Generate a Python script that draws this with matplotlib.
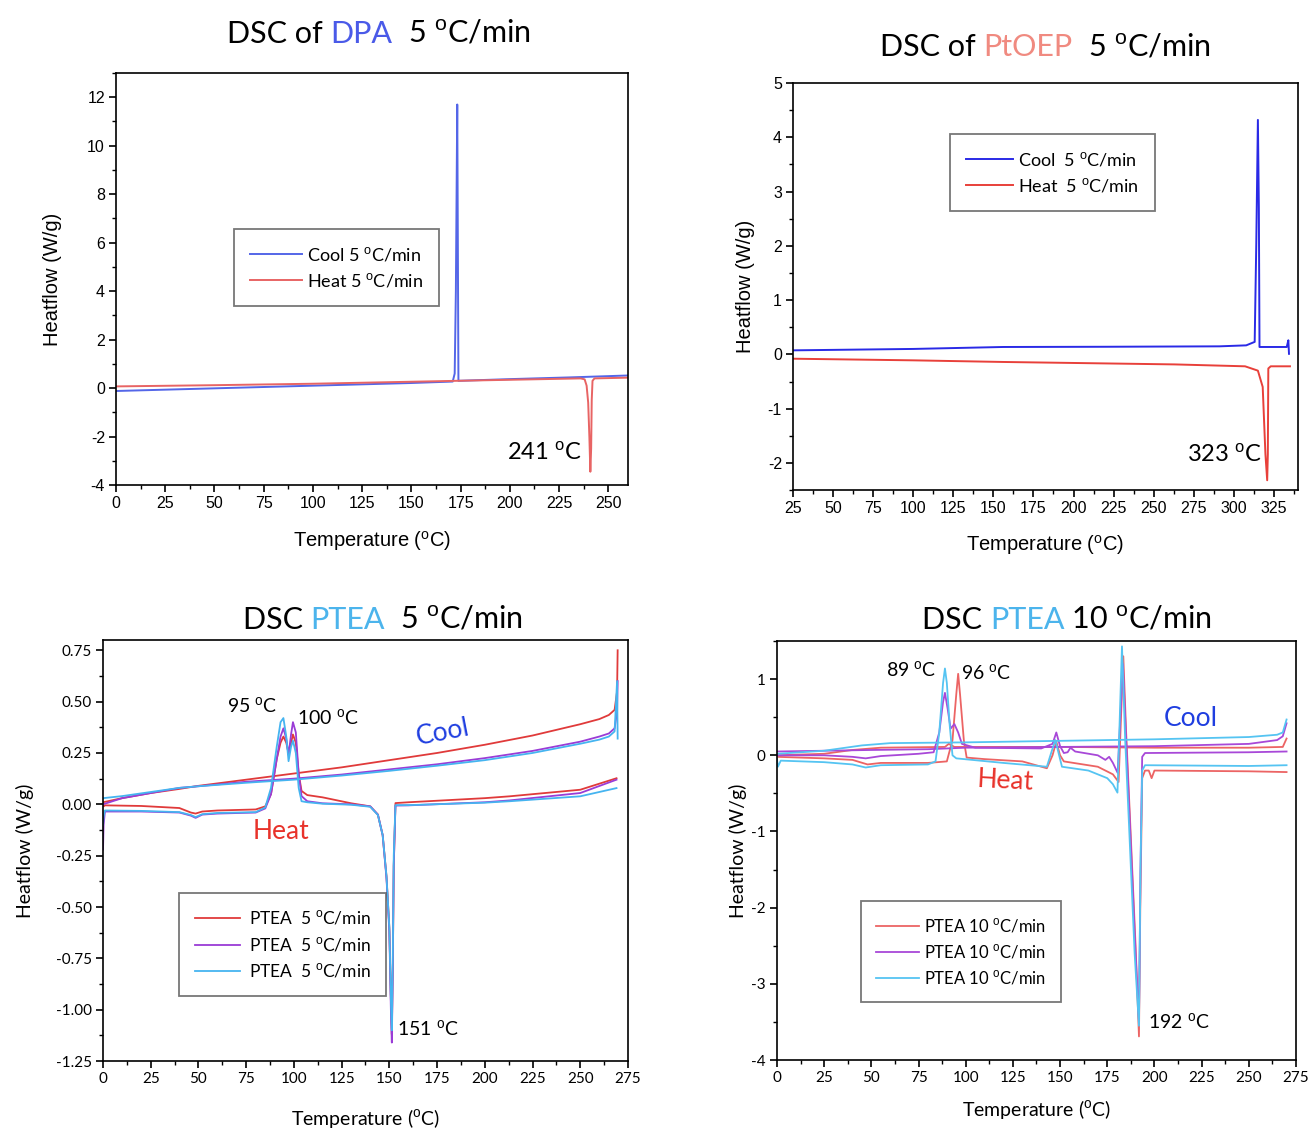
import numpy as np
import matplotlib.pyplot as plt
from matplotlib.ticker import MultipleLocator, FormatStrFormatter

plt.rcParams['mathtext.fontset'] = 'custom'
plt.rcParams['mathtext.rm'] = 'Liberation Sans'
plt.rcParams['axes.linewidth'] = 1.2
plt.rcParams['axes.unicode_minus'] = False

DEG = r'$^{\mathrm{o}}$C'

# ---- DPA 5 C/min
dpa_cool_x = [0, 50, 100, 150, 171.0, 172.0, 172.6, 173.3, 173.6, 173.9, 200, 230, 260]
dpa_cool_y = [-0.12, -0.01, 0.1, 0.21, 0.27, 0.6, 4.0, 11.7, 6.0, 0.3, 0.37, 0.44, 0.52]
dpa_heat_x = [0, 50, 100, 173, 236, 238, 239, 239.8, 240.4, 240.9, 241.3, 241.6, 242.0, 243, 260]
dpa_heat_y = [0.07, 0.12, 0.18, 0.3, 0.4, 0.36, 0.1, -0.6, -2.0, -3.45, -2.5, -0.5, 0.3, 0.4, 0.43]

# ---- PtOEP 5 C/min
pt_cool_x = [25, 100, 156, 220, 291, 307.7, 313, 314, 315, 315.6, 316, 333, 334, 334.4]
pt_cool_y = [0.074, 0.1, 0.136, 0.14, 0.148, 0.166, 0.23, 2.05, 4.32, 2.7, 0.136, 0.136, 0.26, 0.01]
pt_heat_x = [25, 100, 156, 263, 307, 315, 318, 319.7, 320.8, 321.2, 321.5, 323, 335]
pt_heat_y = [-0.08, -0.11, -0.14, -0.185, -0.22, -0.3, -0.6, -1.84, -2.32, -1.84, -0.26, -0.22, -0.22]

# ---- PTEA 5 C/min (heating and cooling runs, three samples)
p5_heat_x = [0, 0.3, 1, 20, 40, 46, 48.5, 52, 60, 80, 85, 88, 91, 93, 94.5, 96, 97.2, 98.5,
             99.5, 101, 102.5, 104, 107, 115, 130, 140, 144, 146.5, 148.5, 150, 150.8, 151.3,
             151.8, 152.3, 153.2, 160, 200, 213, 250, 269]
p5_heat_red = [0.0, -0.01, -0.005, -0.008, -0.018, -0.04, -0.045, -0.035, -0.03, -0.025, -0.01, 0.05,
               0.22, 0.3, 0.33, 0.3, 0.25, 0.3, 0.34, 0.3, 0.15, 0.065, 0.045, 0.034, 0.005, -0.01,
               -0.05, -0.15, -0.35, -0.6, -0.95, -1.12, -0.8, -0.3, 0.006, 0.01, 0.03, 0.039, 0.071, 0.127]
p5_heat_pur = [-0.22, -0.1, -0.035, -0.035, -0.04, -0.055, -0.066, -0.05, -0.045, -0.04, -0.02, 0.05,
               0.22, 0.33, 0.37, 0.32, 0.24, 0.34, 0.40, 0.35, 0.15, 0.04, 0.015, 0.005, 0.0, -0.01,
               -0.05, -0.15, -0.36, -0.62, -1.0, -1.16, -0.8, -0.3, -0.006, -0.005, 0.01, 0.019, 0.055, 0.12]
p5_heat_cyan = [-0.1, -0.06, -0.03, -0.032, -0.038, -0.052, -0.062, -0.048, -0.042, -0.038, -0.015, 0.08,
                0.28, 0.40, 0.42, 0.33, 0.21, 0.28, 0.31, 0.25, 0.08, 0.015, 0.01, 0.003, -0.002, -0.012,
                -0.052, -0.15, -0.35, -0.6, -0.95, -1.10, -0.75, -0.25, -0.004, -0.004, 0.008, 0.015, 0.039, 0.079]
p5_cool_x = [0, 10, 25, 40, 50, 75, 100, 125, 150, 175, 200, 225, 250, 260, 265, 268, 269.3, 269.6]
p5_cool_red = [0.01, 0.03, 0.055, 0.075, 0.09, 0.12, 0.15, 0.18, 0.215, 0.25, 0.29, 0.335, 0.39, 0.415,
               0.435, 0.46, 0.55, 0.75]
p5_cool_pur = [0.0, 0.03, 0.055, 0.08, 0.088, 0.11, 0.125, 0.145, 0.17, 0.195, 0.225, 0.26, 0.305, 0.33,
               0.345, 0.37, 0.45, 0.6]
p5_cool_cyan = [0.03, 0.04, 0.06, 0.08, 0.088, 0.105, 0.12, 0.14, 0.163, 0.188, 0.215, 0.25, 0.295, 0.315,
                0.33, 0.355, 0.6, 0.32]

# ---- PTEA 10 C/min
p10_red_heat_x = [0, 25, 40, 48, 55, 80, 90, 93, 95, 96, 97, 99, 100.5, 110, 130, 143, 146, 148, 150,
                  152, 170, 178, 181, 183.5, 185, 187, 190, 191.8, 192.5, 193.5, 195, 197, 198.5, 200, 250, 270]
p10_red_heat_y = [-0.02, -0.04, -0.06, -0.12, -0.1, -0.1, -0.08, 0.2, 0.8, 1.07, 0.8, 0.2, -0.03, -0.05,
                  -0.08, -0.17, 0.0, 0.18, 0.0, -0.08, -0.15, -0.25, -0.35, 1.3, 0.3, -0.8, -2.5, -3.69,
                  -2.0, -0.3, -0.2, -0.2, -0.3, -0.2, -0.21, -0.22]
p10_pur_heat_x = [0, 25, 40, 47, 55, 75, 83, 86, 88, 89, 90.5, 92, 94, 96, 98, 105, 140, 146, 148, 150,
                  152, 154, 155.5, 158, 170, 174, 176, 178, 180.5, 183.3, 185, 187, 190, 191.8, 192.6,
                  193.5, 195, 250, 270]
p10_pur_heat_y = [0.0, 0.0, -0.02, -0.04, -0.01, 0.02, 0.04, 0.3, 0.7, 0.82, 0.6, 0.35, 0.41, 0.3, 0.15,
                  0.1, 0.09, 0.15, 0.3, 0.12, 0.03, 0.04, 0.1, 0.05, 0.0, -0.06, -0.02, -0.1, -0.23, 1.2,
                  0.2, -0.9, -2.6, -3.5, -1.5, -0.02, 0.03, 0.04, 0.05]
p10_cyan_heat_x = [0, 0.5, 2, 25, 40, 47, 55, 80, 84, 86, 88, 89, 90, 91.5, 93, 95, 120, 143, 145.5,
                   147.5, 149.5, 151, 165, 175, 178, 180.4, 182.8, 184.5, 186.5, 189.5, 191.8, 192.6,
                   193.5, 195, 250, 270]
p10_cyan_heat_y = [-0.05, -0.15, -0.07, -0.09, -0.12, -0.16, -0.13, -0.12, -0.08, 0.3, 0.95, 1.14, 0.95,
                   0.4, 0.0, -0.04, -0.1, -0.15, 0.05, 0.2, 0.0, -0.15, -0.2, -0.3, -0.38, -0.49, 1.43,
                   0.2, -0.9, -2.6, -3.55, -1.5, -0.2, -0.13, -0.14, -0.13]
p10_red_cool_x = [0, 25, 40, 55, 89, 91, 94, 150, 200, 250, 268, 270]
p10_red_cool_y = [0.0, 0.02, 0.07, 0.1, 0.11, 0.15, 0.11, 0.11, 0.1, 0.1, 0.11, 0.22]
p10_pur_cool_x = [0, 25, 50, 80, 100, 150, 200, 250, 265, 268, 270]
p10_pur_cool_y = [0.05, 0.06, 0.07, 0.08, 0.1, 0.11, 0.12, 0.15, 0.2, 0.25, 0.42]
p10_cyan_cool_x = [0, 25, 45, 60, 100, 150, 200, 250, 265, 268, 270]
p10_cyan_cool_y = [0.02, 0.06, 0.13, 0.16, 0.17, 0.19, 0.21, 0.24, 0.27, 0.3, 0.47]

fig = plt.figure(figsize=(13.14, 11.37), dpi=100)
ax1 = fig.add_axes([0.0883, 0.5734, 0.3896, 0.3624])
ax2 = fig.add_axes([0.6035, 0.569, 0.3843, 0.358])
ax3 = fig.add_axes([0.0784, 0.0668, 0.3995, 0.3703])
ax4 = fig.add_axes([0.5913, 0.0677, 0.395, 0.3685])


def style(ax, xlim, ylim, xstep, ystep, font, size, xpad, ypad, yfmt=None):
    ax.set_xlim(xlim)
    ax.set_ylim(ylim)
    ax.xaxis.set_major_locator(MultipleLocator(xstep))
    ax.xaxis.set_minor_locator(MultipleLocator(xstep / 2))
    ax.yaxis.set_major_locator(MultipleLocator(ystep))
    ax.yaxis.set_minor_locator(MultipleLocator(ystep / 2))
    if yfmt:
        ax.yaxis.set_major_formatter(FormatStrFormatter(yfmt))
    ax.tick_params(which='major', direction='out', length=5, width=1.2, labelsize=size, pad=3)
    ax.tick_params(which='minor', direction='out', length=3, width=1.0)
    for lab in ax.get_xticklabels() + ax.get_yticklabels():
        lab.set_family(font)
    ax.set_xlabel('Temperature (' + DEG + ')', family=font, fontsize=size + 3, labelpad=xpad)
    ax.set_ylabel('Heatflow (W/g)', family=font, fontsize=size + 3, labelpad=ypad)


def title(x, y, parts, size=22):
    t = fig.text(x, y, parts[0][0], color=parts[0][1], fontsize=size, family='Lato', va='bottom')
    for s, c in parts[1:]:
        t = ax1.annotate(s, xy=(1, 0), xycoords=t, va='bottom', ha='left', color=c,
                         fontsize=size, family='Lato', annotation_clip=False)


def legend(ax, x0, ytop, size, hl, tp=0.25):
    lg = ax.legend(loc='upper left', bbox_to_anchor=(x0, ytop), borderaxespad=0, fancybox=False,
                   handlelength=hl, borderpad=0.9, labelspacing=0.45,
                   handletextpad=tp, prop={'family': 'Lato', 'size': size})
    lg.get_frame().set_edgecolor('#555555')
    lg.get_frame().set_linewidth(1.3)


# panel 1: DPA
ax1.plot(dpa_cool_x, dpa_cool_y, color='#5466e8', lw=1.4, label='Cool 5 ' + DEG + '/min')
ax1.plot(dpa_heat_x, dpa_heat_y, color='#e86464', lw=1.4, label='Heat 5 ' + DEG + '/min')
style(ax1, (0, 260), (-4, 13), 25, 2, 'Liberation Sans', 11.5, 13, 18)
legend(ax1, 0.23, 0.621, 13, 2.9)
ax1.text(198.5, -2.67, '241 ' + DEG, fontsize=17, family='Lato', va='center')

# panel 2: PtOEP
ax2.plot(pt_cool_x, pt_cool_y, color='#2a2ae6', lw=1.4, label='Cool  5 ' + DEG + '/min')
ax2.plot(pt_heat_x, pt_heat_y, color='#e8403a', lw=1.4, label='Heat  5 ' + DEG + '/min')
style(ax2, (25, 340), (-2.5, 5), 25, 1, 'Liberation Sans', 11.5, 12, 9)
legend(ax2, 0.311, 0.875, 13, 2.6)
ax2.text(270.5, -1.84, '323 ' + DEG, fontsize=17, family='Lato', va='center')

# panel 3: PTEA 5 C/min
c5 = ['#e03a3a', '#9a3cd6', '#45b4f0']
for hy, cy, c in zip([p5_heat_red, p5_heat_pur, p5_heat_cyan],
                     [p5_cool_red, p5_cool_pur, p5_cool_cyan], c5):
    ax3.plot(p5_heat_x, hy, color=c, lw=1.3, label='PTEA  5 ' + DEG + '/min')
    ax3.plot(p5_cool_x, cy, color=c, lw=1.3)
style(ax3, (0, 275), (-1.25, 0.8), 25, 0.25, 'Lato', 11, 15, 16, '%.2f')
legend(ax3, 0.145, 0.399, 12.5, 2.6, 0.5)
ax3.text(65, 0.48, '95 ' + DEG, fontsize=14, family='Lato', va='center')
ax3.text(101.5, 0.42, '100 ' + DEG, fontsize=14, family='Lato', va='center')
ax3.text(154, -1.09, '151 ' + DEG, fontsize=14, family='Lato', va='center')
ax3.text(178, 0.35, 'Cool', fontsize=19, family='Lato', color='#1f3ee0', ha='center', va='center', rotation=11)
ax3.text(93, -0.13, 'Heat', fontsize=19, family='Lato', color='#e8322a', ha='center', va='center')

# panel 4: PTEA 10 C/min
c10 = ['#ec6464', '#a848d8', '#55c4f2']
heats = [(p10_red_heat_x, p10_red_heat_y), (p10_pur_heat_x, p10_pur_heat_y), (p10_cyan_heat_x, p10_cyan_heat_y)]
cools = [(p10_red_cool_x, p10_red_cool_y), (p10_pur_cool_x, p10_pur_cool_y), (p10_cyan_cool_x, p10_cyan_cool_y)]
for (hx, hy), (cx, cy), c in zip(heats, cools, c10):
    ax4.plot(hx, hy, color=c, lw=1.3, label='PTEA 10 ' + DEG + '/min')
    ax4.plot(cx, cy, color=c, lw=1.3)
style(ax4, (0, 275), (-4, 1.5), 25, 1, 'Lato', 11, 9, 3)
legend(ax4, 0.162, 0.379, 12, 2.6)
ax4.text(57.8, 1.12, '89 ' + DEG, fontsize=14, family='Lato', va='center')
ax4.text(97.5, 1.08, '96 ' + DEG, fontsize=14, family='Lato', va='center')
ax4.text(196.6, -3.49, '192 ' + DEG, fontsize=14, family='Lato', va='center')
ax4.text(219, 0.48, 'Cool', fontsize=19, family='Lato', color='#1f3ee0', ha='center', va='center')
ax4.text(121, -0.34, 'Heat', fontsize=19, family='Lato', color='#e8322a', ha='center', va='center', rotation=-3)

# titles with coloured sample names
title(0.1728, 0.958, [('DSC of ', 'black'), ('DPA', '#4a5ae8'), ('  5 ' + DEG + '/min', 'black')])
title(0.6697, 0.946, [('DSC of ', 'black'), ('PtOEP', '#f08a80'), ('  5 ' + DEG + '/min', 'black')])
title(0.1849, 0.4424, [('DSC ', 'black'), ('PTEA', '#4cb4ec'), ('  5 ' + DEG + '/min', 'black')])
title(0.7017, 0.4424, [('DSC ', 'black'), ('PTEA', '#4cb4ec'), (' 10 ' + DEG + '/min', 'black')])

fig.savefig('out.png', dpi=100)
